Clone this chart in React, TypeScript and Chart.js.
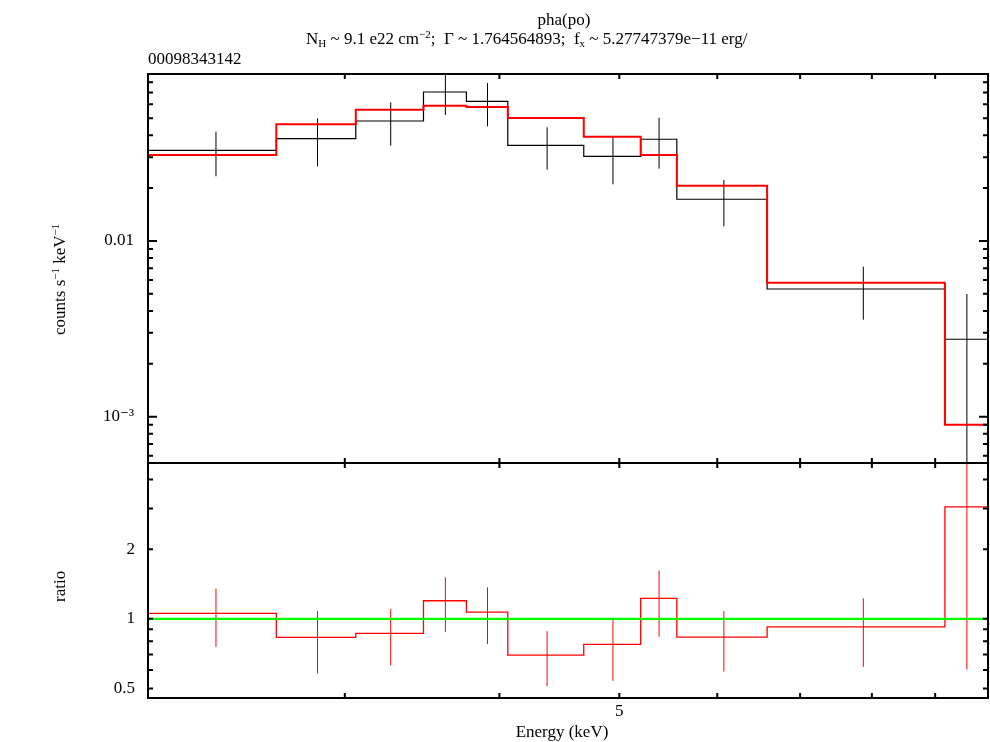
import { useEffect, useRef } from 'react';
import { Chart, registerables } from 'chart.js';

Chart.register(...registerables);

// ---- data ----
const binEdges = [2.08, 2.641, 3.062, 3.473, 3.762, 4.063, 4.68, 5.203, 5.565, 6.583, 9.165, 9.93];
const dataCounts = [0.03282, 0.03822, 0.04819, 0.07047, 0.06238, 0.03505, 0.03034, 0.03792, 0.01728, 0.00533, 0.002758];
const dataErrHigh = [0.04189, 0.04993, 0.06157, 0.089, 0.0793, 0.04437, 0.0396, 0.05031, 0.02225, 0.007142, 0.004993];
const dataErrLow = [0.02335, 0.02662, 0.03486, 0.05214, 0.04496, 0.02545, 0.02102, 0.02579, 0.01212, 0.003565, 0.00054];
const modelCounts = [0.03087, 0.04615, 0.05589, 0.0589, 0.0579, 0.05013, 0.03924, 0.03087, 0.02064, 0.00579, 0.000901];
const ratioValues = [1.055, 0.8304, 0.8644, 1.197, 1.069, 0.6962, 0.7744, 1.226, 0.833, 0.9232, 3.051];
const ratioErrHigh = [1.349, 1.08, 1.102, 1.512, 1.368, 0.8845, 1.01, 1.615, 1.08, 1.226, 5.54];
const ratioErrLow = [0.756, 0.5796, 0.628, 0.8756, 0.7766, 0.5106, 0.5385, 0.8355, 0.5914, 0.6193, 0.6033];
const unityLevel = 1;

// ---- axes ----
const energyRange = [2.08, 9.93];
const countsRange = [5.45e-4, 0.0892];
const ratioRange = [0.4543, 4.72];

const energyTicks = [3, 4, 5, 6, 7, 8, 9];
const energyLabelValues = [5];
const energyLabels = ['5'];

const countsTicks = [0.0006, 0.0007, 0.0008, 0.0009, 0.001, 0.002, 0.003, 0.004, 0.005, 0.006, 0.007, 0.008, 0.009, 0.01, 0.02, 0.03, 0.04, 0.05, 0.06, 0.07, 0.08];
const countsMajorValues = [0.001, 0.01];
const countsLabels = ['10⁻³', '0.01'];

const ratioTicks = [0.5, 0.6, 0.7, 0.8, 0.9, 1, 2, 3, 4];
const ratioLabelValues = [0.5, 1, 2];
const ratioLabels = ['0.5', '1', '2'];

const titleText = 'pha(po)';
const subtitleParts: [string, string][] = [
  ['N', 'n'], ['H', 'sub'], [' ~ 9.1 e22 cm', 'n'], ['−2', 'sup'],
  [';  Γ ~ 1.764564893;  f', 'n'], ['x', 'sub'], [' ~ 5.27747379e−11 erg/', 'n'],
];
const obsIdText = '00098343142';
const xTitle = 'Energy (keV)';
const countsTitleParts: [string, string][] = [['counts s', 'n'], ['−1', 'sup'], [' keV', 'n'], ['−1', 'sup']];
const ratioTitle = 'ratio';

const FAMILY = "'Liberation Serif', 'Times New Roman', 'DejaVu Serif', serif";
const FONT_SIZE = 17;
const SMALL_SIZE = 11;

const near = (a: number, b: number) => Math.abs(a - b) <= 1e-9 * Math.max(1, Math.abs(b));
const labelFor = (vals: number[], texts: string[]) => (v: any) => {
  const i = vals.findIndex((t) => near(Number(v), t));
  return i >= 0 ? texts[i] : '';
};

function stepPoints(values: number[]) {
  const pts = values.map((v, i) => ({ x: binEdges[i], y: v }));
  pts.push({ x: binEdges[values.length], y: values[values.length - 1] });
  return pts;
}

function errPoints(lo: number[], hi: number[]) {
  const pts: any[] = [];
  lo.forEach((l, i) => {
    const c = (binEdges[i] + binEdges[i + 1]) / 2;
    pts.push({ x: c, y: l }, { x: c, y: hi[i] }, { x: c, y: null });
  });
  return pts;
}

function drawRich(ctx: CanvasRenderingContext2D, parts: [string, string][], x: number, y: number) {
  let cx = x;
  for (const [t, k] of parts) {
    const small = k !== 'n';
    ctx.font = `${small ? SMALL_SIZE : FONT_SIZE}px ${FAMILY}`;
    const dy = k === 'sub' ? 3 : k === 'sup' ? -6 : 0;
    ctx.fillText(t, cx, y + dy);
    cx += ctx.measureText(t).width;
  }
  return cx - x;
}

const decorPlugin = {
  id: 'xspecDecor',
  beforeDatasetDraw(chart: any, args: any) {
    const ys = chart.scales[args.meta.yAxisID];
    const { left, right } = chart.chartArea;
    const ctx = chart.ctx;
    ctx.save();
    ctx.beginPath();
    ctx.rect(left, ys.top, right - left, ys.bottom - ys.top);
    ctx.clip();
  },
  afterDatasetDraw(chart: any) {
    chart.ctx.restore();
  },
  afterDraw(chart: any) {
    const ctx: CanvasRenderingContext2D = chart.ctx;
    const { left, right } = chart.chartArea;
    const xs = chart.scales.x;
    const yc = chart.scales.y;
    const yr = chart.scales.yr;
    ctx.save();
    ctx.strokeStyle = '#000';
    ctx.lineWidth = 2;
    [yc, yr].forEach((s: any) => {
      ctx.strokeRect(left, s.top, right - left, s.bottom - s.top);
    });
    ctx.beginPath();
    xs.ticks.forEach((t: any) => {
      const px = xs.getPixelForValue(t.value);
      [yc, yr].forEach((s: any) => {
        ctx.moveTo(px, s.top);
        ctx.lineTo(px, s.top + 5);
        ctx.moveTo(px, s.bottom);
        ctx.lineTo(px, s.bottom - 5);
      });
    });
    const yTicks = (s: any, majors: number[], majLen: number, minLen: number) => {
      s.ticks.forEach((t: any) => {
        const py = s.getPixelForValue(t.value);
        const len = majors.some((m) => near(t.value, m)) ? majLen : minLen;
        ctx.moveTo(left, py);
        ctx.lineTo(left + len, py);
        ctx.moveTo(right, py);
        ctx.lineTo(right - len, py);
      });
    };
    yTicks(yc, countsMajorValues, 9, 5);
    yTicks(yr, [], 5, 5);
    ctx.stroke();

    ctx.fillStyle = '#000';
    ctx.textBaseline = 'alphabetic';
    ctx.textAlign = 'left';
    ctx.font = `${FONT_SIZE}px ${FAMILY}`;
    const tw = ctx.measureText(titleText).width;
    ctx.fillText(titleText, 564 - tw / 2, 25);
    drawRich(ctx, subtitleParts, 306, 44);
    ctx.font = `${FONT_SIZE}px ${FAMILY}`;
    ctx.fillText(obsIdText, left, 64);
    const xw = ctx.measureText(xTitle).width;
    ctx.fillText(xTitle, 562 - xw / 2, 737);

    ctx.save();
    ctx.translate(65, 335);
    ctx.rotate(-Math.PI / 2);
    drawRich(ctx, countsTitleParts, 0, 0);
    ctx.restore();

    ctx.save();
    ctx.translate(65, 602);
    ctx.rotate(-Math.PI / 2);
    ctx.font = `${FONT_SIZE}px ${FAMILY}`;
    ctx.fillText(ratioTitle, 0, 0);
    ctx.restore();

    ctx.restore();
  },
};

export default function App() {
  const ref = useRef<HTMLCanvasElement | null>(null);

  useEffect(() => {
    if (!ref.current) return;
    const tickFont = { family: FAMILY, size: FONT_SIZE };
    const chart = new Chart(ref.current, {
      type: 'line',
      data: {
        datasets: [
          {
            label: 'unity',
            data: [{ x: energyRange[0], y: unityLevel }, { x: energyRange[1], y: unityLevel }],
            yAxisID: 'yr',
            borderColor: '#00ff00',
            borderWidth: 2.2,
            pointRadius: 0,
            order: 1,
          },
          {
            label: 'ratio errors',
            data: errPoints(ratioErrLow, ratioErrHigh),
            yAxisID: 'yr',
            borderColor: '#ff0000',
            borderWidth: 1,
            pointRadius: 0,
            spanGaps: false,
            order: 2,
          },
          {
            label: 'ratio',
            data: stepPoints(ratioValues),
            yAxisID: 'yr',
            stepped: 'before',
            borderColor: '#ff0000',
            borderWidth: 1.3,
            pointRadius: 0,
            order: 3,
          },
          {
            label: 'model',
            data: stepPoints(modelCounts),
            yAxisID: 'y',
            stepped: 'before',
            borderColor: '#ff0000',
            borderWidth: 2,
            pointRadius: 0,
            order: 4,
          },
          {
            label: 'data errors',
            data: errPoints(dataErrLow, dataErrHigh),
            yAxisID: 'y',
            borderColor: '#000000',
            borderWidth: 1,
            pointRadius: 0,
            spanGaps: false,
            order: 5,
          },
          {
            label: 'data',
            data: stepPoints(dataCounts),
            yAxisID: 'y',
            stepped: 'before',
            borderColor: '#000000',
            borderWidth: 1.2,
            pointRadius: 0,
            order: 6,
          },
        ],
      },
      options: {
        responsive: false,
        animation: false,
        devicePixelRatio: 1,
        layout: { padding: { top: 74, right: 2, bottom: 0, left: 0 } },
        plugins: { legend: { display: false }, tooltip: { enabled: false }, title: { display: false } },
        scales: {
          x: {
            type: 'logarithmic',
            position: 'bottom',
            min: energyRange[0],
            max: energyRange[1],
            afterBuildTicks: (s: any) => {
              s.ticks = energyTicks.map((v) => ({ value: v }));
            },
            ticks: {
              callback: labelFor(energyLabelValues, energyLabels),
              font: tickFont,
              color: '#000',
              padding: 3,
              autoSkip: false,
              maxRotation: 0,
              minRotation: 0,
            },
            grid: { display: false, drawTicks: false },
            border: { display: false },
            afterFit: (s: any) => {
              s.height = 44;
            },
          },
          y: {
            type: 'logarithmic',
            position: 'left',
            stack: 'panels',
            stackWeight: 389,
            weight: 1,
            min: countsRange[0],
            max: countsRange[1],
            afterBuildTicks: (s: any) => {
              s.ticks = countsTicks.map((v) => ({ value: v }));
            },
            ticks: {
              callback: labelFor(countsMajorValues, countsLabels),
              font: tickFont,
              color: '#000',
              padding: 14,
              autoSkip: false,
            },
            grid: { display: false, drawTicks: false },
            border: { display: false },
            afterFit: (s: any) => {
              s.width = 148;
            },
          },
          yr: {
            type: 'logarithmic',
            position: 'left',
            stack: 'panels',
            stackWeight: 235,
            weight: 0,
            min: ratioRange[0],
            max: ratioRange[1],
            afterBuildTicks: (s: any) => {
              s.ticks = ratioTicks.map((v) => ({ value: v }));
            },
            ticks: {
              callback: labelFor(ratioLabelValues, ratioLabels),
              font: tickFont,
              color: '#000',
              padding: 13,
              autoSkip: false,
            },
            grid: { display: false, drawTicks: false },
            border: { display: false },
            afterFit: (s: any) => {
              s.width = 148;
            },
          },
        },
      } as any,
      plugins: [decorPlugin as any],
    });
    return () => chart.destroy();
  }, []);

  return (
    <div style={{ position: 'absolute', left: 0, top: 0, width: 990, height: 742, background: '#fff' }}>
      <canvas ref={ref} width={990} height={742} style={{ display: 'block', width: 990, height: 742 }} />
    </div>
  );
}
